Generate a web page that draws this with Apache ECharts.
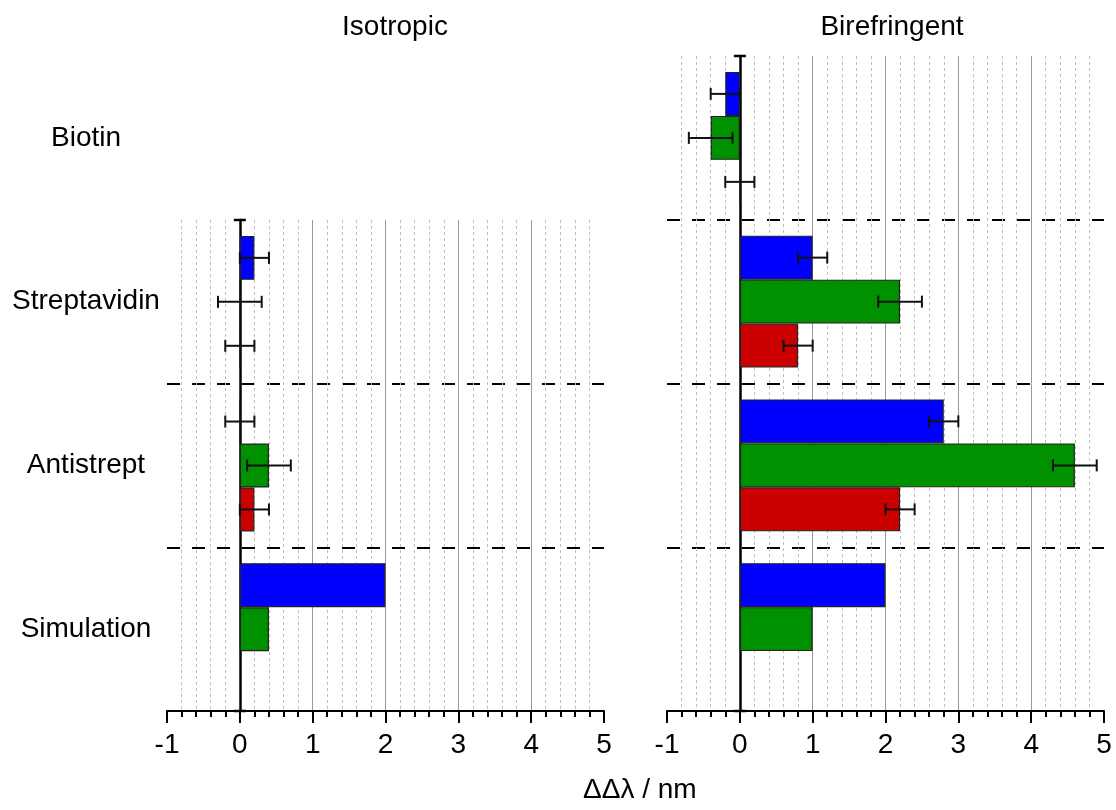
<!DOCTYPE html>
<html>
<head>
<meta charset="utf-8">
<script src="https://cdn.jsdelivr.net/npm/echarts@6/dist/echarts.min.js"></script>
<style>html,body{margin:0;padding:0;background:#fff}#c{width:1116px;height:810px}</style>
</head>
<body>
<div id="c"></div>
<script>
// ---- data ----
const categories = ['Biotin', 'Streptavidin', 'Antistrept', 'Simulation'];
const isoCategories = ['Streptavidin', 'Antistrept', 'Simulation'];
const panelTitles = ['Isotropic', 'Birefringent'];
const xTicks = [-1, 0, 1, 2, 3, 4, 5];
const axisName = 'ΔΔλ / nm';

const isoBlue = [0.2, 0, 2.0];
const isoBlueErr = [0.2, 0.2, null];
const isoGreen = [0, 0.4, 0.4];
const isoGreenErr = [0.3, 0.3, null];
const isoRed = [0, 0.2, null];
const isoRedErr = [0.2, 0.2, null];

const biBlue = [-0.2, 1.0, 2.8, 2.0];
const biBlueErr = [0.2, 0.2, 0.2, null];
const biGreen = [-0.4, 2.2, 4.6, 1.0];
const biGreenErr = [0.3, 0.3, 0.3, null];
const biRed = [0, 0.8, 2.2, null];
const biRedErr = [0.2, 0.2, 0.2, null];

const colors = ['#0000ff', '#009100', '#cc0000'];
const GAP = 0.194;
const FONT = '"Liberation Sans", Arial, sans-serif';

function errData(vals, errs) {
  const out = [];
  vals.forEach((v, i) => { if (errs[i] != null) out.push([i, v, errs[i]]); });
  return out;
}
function errSeries(gridIdx, slot, vals, errs) {
  return {
    type: 'custom', xAxisIndex: gridIdx, yAxisIndex: gridIdx, z: 5,
    encode: { x: 1, y: 0 },
    data: errData(vals, errs),
    renderItem: function (params, api) {
      const cat = api.value(0), v = api.value(1), e = api.value(2);
      const lo = api.coord([v - e, cat]);
      const hi = api.coord([v + e, cat]);
      const band = api.size([0, 1])[1];
      const bw = band * (1 - GAP) / 3;
      const y = lo[1] + (slot - 1) * bw;
      const st = { stroke: '#111', lineWidth: 2 };
      return { type: 'group', children: [
        { type: 'line', shape: { x1: lo[0], y1: y, x2: hi[0], y2: y }, style: st },
        { type: 'line', shape: { x1: lo[0], y1: y - 6, x2: lo[0], y2: y + 6 }, style: st },
        { type: 'line', shape: { x1: hi[0], y1: y - 6, x2: hi[0], y2: y + 6 }, style: st }
      ]};
    }
  };
}
function barSeries(gridIdx, slot, vals) {
  return {
    type: 'bar', xAxisIndex: gridIdx, yAxisIndex: gridIdx, z: 3,
    data: vals.map(v => v == null ? '-' : v),
    barGap: '0%', barCategoryGap: (GAP * 100) + '%',
    itemStyle: { color: colors[slot], borderColor: '#222', borderWidth: 1.2 }
  };
}
function xAxisCfg(gridIdx) {
  return {
    type: 'value', gridIndex: gridIdx, min: xTicks[0], max: xTicks[xTicks.length - 1], interval: 1,
    axisLine: { show: true, onZero: false, lineStyle: { color: '#000', width: 2 } },
    axisTick: { show: true, length: 12, lineStyle: { color: '#000', width: 2 } },
    minorTick: { show: true, splitNumber: 5, length: 6, lineStyle: { color: '#000', width: 2 } },
    axisLabel: { color: '#000', fontSize: 28, fontFamily: FONT, margin: 20 },
    splitLine: { show: true, showMinLine: false, showMaxLine: false, lineStyle: { color: '#999', width: 1 } },
    minorSplitLine: { show: true, lineStyle: { color: '#c0c0c0', width: 1, type: [3, 3] } }
  };
}
function yAxisCfg(gridIdx, cats, showLabels) {
  return {
    type: 'category', gridIndex: gridIdx, data: cats, inverse: true,
    axisLine: { show: true, onZero: true, symbol: ['rect', 'rect'], symbolSize: [12, 2.5],
      lineStyle: { color: '#000', width: 2.5 } },
    axisTick: { show: false },
    axisLabel: { show: showLabels, color: '#000', fontSize: 28, fontFamily: FONT, margin: 581, align: 'center' },
    splitLine: { show: true, showMinLine: false, showMaxLine: false, lineStyle: { color: '#000', width: 2.2, type: [13, 12] } }
  };
}

const chart = echarts.init(document.getElementById('c'), null, { renderer: 'canvas' });
chart.setOption({
  backgroundColor: '#fff',
  animation: false,
  title: [
    { text: panelTitles[0], left: 390, top: 8, textAlign: 'center', textStyle: { fontSize: 28, fontWeight: 'normal', color: '#000', fontFamily: FONT } },
    { text: panelTitles[1], left: 887, top: 8, textAlign: 'center', textStyle: { fontSize: 28, fontWeight: 'normal', color: '#000', fontFamily: FONT } }
  ],
  grid: [
    { left: 167, width: 437, top: 220, height: 491, outerBoundsMode: 'none', containLabel: false },
    { left: 667, width: 437, top: 56, height: 655, outerBoundsMode: 'none', containLabel: false }
  ],
  xAxis: [xAxisCfg(0), xAxisCfg(1)],
  yAxis: [yAxisCfg(0, isoCategories, false), yAxisCfg(1, categories, true)],
  graphic: [
    { type: 'text', left: 583, top: 776, style: { text: axisName, fontSize: 28, fontFamily: FONT, fill: '#000' } }
  ],
  series: [
    barSeries(0, 0, isoBlue), barSeries(0, 1, isoGreen), barSeries(0, 2, isoRed),
    barSeries(1, 0, biBlue), barSeries(1, 1, biGreen), barSeries(1, 2, biRed),
    errSeries(0, 0, isoBlue, isoBlueErr), errSeries(0, 1, isoGreen, isoGreenErr), errSeries(0, 2, isoRed, isoRedErr),
    errSeries(1, 0, biBlue, biBlueErr), errSeries(1, 1, biGreen, biGreenErr), errSeries(1, 2, biRed, biRedErr)
  ]
});
</script>
</body>
</html>
